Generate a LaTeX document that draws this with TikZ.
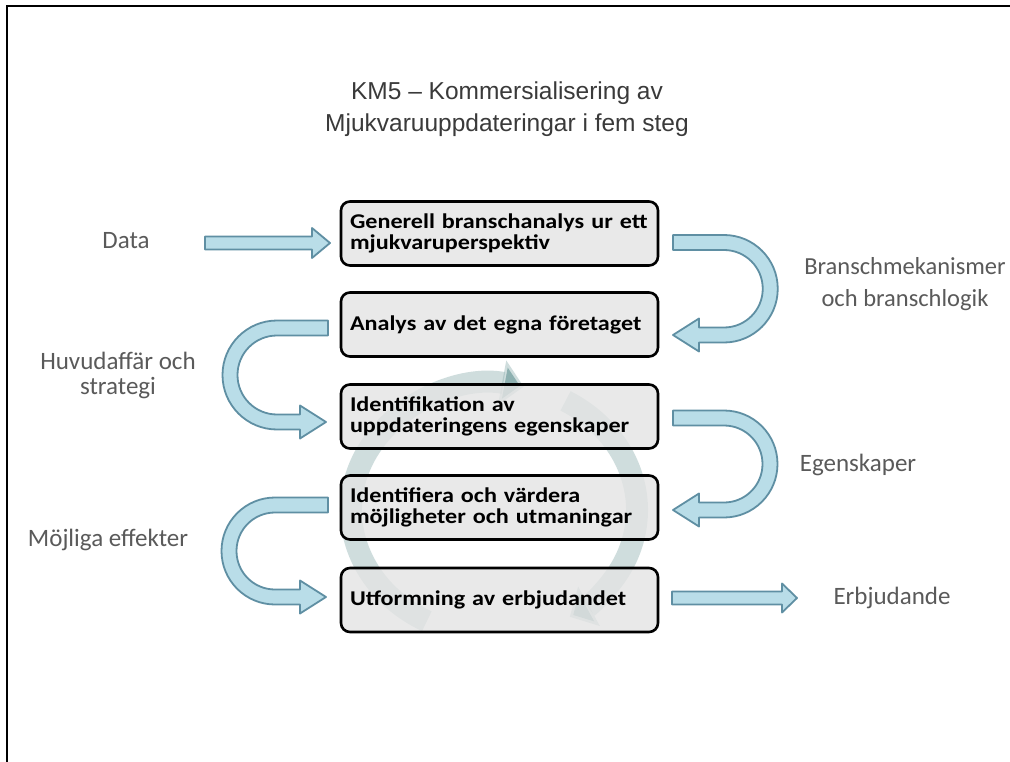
\documentclass[tikz,border=0pt]{standalone}
\usepackage{fontspec}
\usetikzlibrary{arrows.meta}
\newfontfamily\boxfont[FakeStretch=1.15]{Carlito}
\newfontfamily\lblfont{Carlito}
\newfontfamily\titlefont{Liberation Sans}

\definecolor{boxgray}{HTML}{E4E4E4}
\definecolor{arrowfill}{HTML}{B9DDE8}
\definecolor{arrowline}{HTML}{5F8FA3}
\definecolor{ringcol}{HTML}{8DB0B0}
\definecolor{lblgray}{HTML}{5A5A5A}
\definecolor{titlegray}{HTML}{3A3A3A}

% band half-thickness, head half-height and head length of the block arrows
\newcommand\hh{7.5}
\newcommand\hH{16.5}
\newcommand\hl{26}

% U-turn block arrow bulging to the right:
% #1 start x, #2 arc centre x, #3 upper arm y, #4 lower arm y, #5 tip x
\newcommand\uturnright[5]{%
  \pgfmathsetmacro\rr{(#4-#3)/2}%
  \pgfmathsetmacro\ro{\rr+\hh}%
  \pgfmathsetmacro\ri{\rr-\hh}%
  \draw[uarrow] (#1,#3-\hh) -- (#2,#3-\hh)
    arc[start angle=-90,end angle=90,radius=\ro]
    -- (#5+\hl,#4+\hh) -- (#5+\hl,#4+\hH) -- (#5,#4) -- (#5+\hl,#4-\hH)
    -- (#5+\hl,#4-\hh) -- (#2,#4-\hh)
    arc[start angle=90,end angle=-90,radius=\ri]
    -- (#1,#3+\hh) -- cycle;}

% U-turn block arrow bulging to the left
\newcommand\uturnleft[5]{%
  \pgfmathsetmacro\rr{(#4-#3)/2}%
  \pgfmathsetmacro\ro{\rr+\hh}%
  \pgfmathsetmacro\ri{\rr-\hh}%
  \draw[uarrow] (#1,#3-\hh) -- (#2,#3-\hh)
    arc[start angle=-90,end angle=-270,radius=\ro]
    -- (#5-\hl,#4+\hh) -- (#5-\hl,#4+\hH) -- (#5,#4) -- (#5-\hl,#4-\hH)
    -- (#5-\hl,#4-\hh) -- (#2,#4-\hh)
    arc[start angle=-270,end angle=-90,radius=\ri]
    -- (#1,#3+\hh) -- cycle;}

% straight block arrow: #1 tail x, #2 tip x, #3 y, #4 head length, #5 head half-height
\newcommand\blockarrow[5]{%
  \draw[uarrow] (#1,#3-6.5) -- (#2-#4,#3-6.5) -- (#2-#4,#3-#5) -- (#2,#3)
    -- (#2-#4,#3+#5) -- (#2-#4,#3+6.5) -- (#1,#3+6.5) -- cycle;}

\tikzset{
  uarrow/.style={fill=arrowfill, draw=arrowline, line width=1.8pt, line join=round},
  stepbox/.style={draw=black, line width=2.6pt, rounded corners=9pt,
    fill=boxgray, fill opacity=0.8, text opacity=1,
    minimum width=317pt, minimum height=64pt, text width=299pt,
    inner xsep=9pt, align=left,
    font=\boxfont\bfseries\fontsize{21}{21.5}\selectfont},
  lbl/.style={text=lblgray, font=\lblfont\fontsize{25}{25}\selectfont, inner sep=0pt},
  ring/.style={draw=ringcol, draw opacity=0.42, line width=22pt},
}

\begin{document}
\begin{tikzpicture}[x=1pt,y=-1pt]
\useasboundingbox (0,0) rectangle (1010,762);
\fill[white] (0,0) rectangle (1010,762);

% frame lines on the top and left edges
\draw[line width=2.6pt] (7,762) -- (7,6) -- (1010,6);

% title
\node[text=titlegray, font=\titlefont\fontsize{24.5}{32}\selectfont, align=center]
  (title) at (507,109) {KM5 – Kommersialisering av\\Mjukvaruuppdateringar i fem steg};

% faint cycle of two arrows behind the steps
\draw[ring, -{Triangle[width=44pt,length=22pt]}]
  (494,510) ++(118:143 and 126) arc[start angle=118,end angle=282,x radius=143,y radius=126];
\draw[ring, -{Triangle[width=44pt,length=22pt]}]
  (494,510) ++(300:143 and 126) arc[start angle=300,end angle=418,x radius=143,y radius=126];

% the five steps
\node[stepbox] (s1) at (499.5,233.5) {Generell branschanalys ur ett\\mjukvaruperspektiv};
\node[stepbox] (s2) at (499.5,324.5) {Analys av det egna företaget};
\node[stepbox] (s3) at (499.5,416.5) {Identifikation av\\uppdateringens egenskaper};
\node[stepbox] (s4) at (499.5,507.5) {Identifiera och värdera\\möjligheter och utmaningar};
\node[stepbox] (s5) at (499.5,600) {Utformning av erbjudandet};

% side labels
\node[lbl] (data) at (126,241) {Data};
\node[lbl, align=center, font=\lblfont\fontsize{24.5}{32}\selectfont] (mech) at (905,284) {Branschmekanismer\\och branschlogik};
\node[lbl, align=center] (huvud) at (118,375) {Huvudaffär och\\strategi};
\node[lbl] (egen) at (858,465) {Egenskaper};
\node[lbl] (eff) at (108,540) {Möjliga effekter};
\node[lbl] (erbj) at (892,598) {Erbjudande};

% block arrows between the steps
\blockarrow{205}{330}{243}{18}{15}
\uturnright{673}{724}{242.5}{335}{673}
\uturnleft{328}{277}{328}{422}{326}
\uturnright{673}{724}{418}{510}{673}
\uturnleft{328}{275}{505}{597}{326}
\blockarrow{672}{797}{598}{15}{14.5}
\end{tikzpicture}
\end{document}
